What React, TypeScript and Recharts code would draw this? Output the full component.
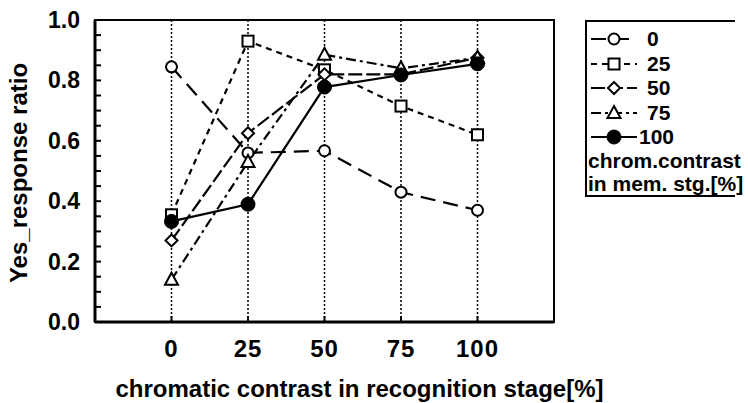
import React from "react";
import {
  CartesianGrid,
  Line,
  LineChart,
  ReferenceArea,
  XAxis,
  YAxis,
} from "recharts";

const CONTRAST = [0, 25, 50, 75, 100];
const MEM_0 = [0.845, 0.56, 0.567, 0.43, 0.37];
const MEM_25 = [0.355, 0.93, 0.835, 0.715, 0.62];
const MEM_50 = [0.27, 0.625, 0.82, 0.82, 0.875];
const MEM_75 = [0.14, 0.53, 0.885, 0.84, 0.875];
const MEM_100 = [0.333, 0.39, 0.778, 0.818, 0.855];

const X_TICKS = [0, 25, 50, 75, 100];
const Y_TICKS = [
  0, 0.05, 0.1, 0.15, 0.2, 0.25, 0.3, 0.35, 0.4, 0.45, 0.5, 0.55, 0.6, 0.65, 0.7, 0.75, 0.8, 0.85,
  0.9, 0.95, 1.0,
];
const Y_LABELED = [0, 0.2, 0.4, 0.6, 0.8, 1.0];

const dados = CONTRAST.map((c, i) => ({
  c,
  m0: MEM_0[i],
  m25: MEM_25[i],
  m50: MEM_50[i],
  m75: MEM_75[i],
  m100: MEM_100[i],
}));

const FONTE = "'Liberation Sans', Arial, Helvetica, sans-serif";

type Forma = "circulo" | "quadrado" | "losango" | "triangulo" | "cheio";

const SERIES: { chave: string; nome: string; forma: Forma; tracejado?: string }[] = [
  { chave: "m0", nome: "0", forma: "circulo", tracejado: "15 8" },
  { chave: "m25", nome: "25", forma: "quadrado", tracejado: "6 5" },
  { chave: "m50", nome: "50", forma: "losango", tracejado: "14 4" },
  { chave: "m75", nome: "75", forma: "triangulo", tracejado: "10 4 3 4" },
  { chave: "m100", nome: "100", forma: "cheio" },
];

function Marcador({ forma, cx, cy }: { forma: Forma; cx: number; cy: number }) {
  const base = { stroke: "#000", strokeWidth: 2, fill: "#fff" };
  if (forma === "circulo") return <circle cx={cx} cy={cy} r={5.5} {...base} />;
  if (forma === "quadrado") return <rect x={cx - 5.5} y={cy - 5.5} width={11} height={11} {...base} />;
  if (forma === "losango")
    return <polygon points={`${cx},${cy - 6} ${cx + 6},${cy} ${cx},${cy + 6} ${cx - 6},${cy}`} {...base} />;
  if (forma === "triangulo")
    return <polygon points={`${cx},${cy - 7} ${cx + 6.5},${cy + 5} ${cx - 6.5},${cy + 5}`} {...base} />;
  return <circle cx={cx} cy={cy} r={7} fill="#000" stroke="#000" />;
}

function TickY(props: any) {
  const { x, y, payload } = props;
  const v = payload.value as number;
  const rotulado = Y_LABELED.some((t) => Math.abs(t - v) < 1e-6);
  return (
    <g>
      <line x1={x + 15} x2={x + 21} y1={y} y2={y} stroke="#000" strokeWidth={2} />
      {rotulado && (
        <text x={x} y={y + 8} textAnchor="end" fontFamily={FONTE} fontWeight="bold" fontSize={23} fill="#000">
          {v.toFixed(1)}
        </text>
      )}
    </g>
  );
}

function TickYDireita(props: any) {
  const { x, y } = props;
  return <line x1={x - 6} x2={x} y1={y} y2={y} stroke="#000" strokeWidth={2} />;
}

function TickX(props: any) {
  const { x, y, payload } = props;
  return (
    <g>
      <line x1={x} x2={x} y1={y} y2={y - 6} stroke="#000" strokeWidth={2} />
      <text
        x={x}
        y={y + 35}
        textAnchor="middle"
        fontFamily={FONTE}
        fontWeight="bold"
        fontSize={24}
        letterSpacing={1}
        fill="#000"
      >
        {payload.value}
      </text>
    </g>
  );
}

function RotuloX(props: any) {
  const { viewBox } = props;
  return (
    <text
      x={viewBox.x + viewBox.width / 2 + 35}
      y={397}
      textAnchor="middle"
      fontFamily={FONTE}
      fontWeight="bold"
      fontSize={24}
      fill="#000"
    >
      chromatic contrast in recognition stage[%]
    </text>
  );
}

function RotuloY(props: any) {
  const { viewBox } = props;
  const cy = viewBox.y + viewBox.height / 2 + 2;
  return (
    <text
      transform={`translate(27,${cy}) rotate(-90)`}
      textAnchor="middle"
      fontFamily={FONTE}
      fontWeight="bold"
      fontSize={24}
      fill="#000"
    >
      Yes_response ratio
    </text>
  );
}

function Legenda() {
  return (
    <div
      style={{
        position: "absolute",
        left: 585,
        top: 20,
        width: 150,
        height: 177,
        borderLeft: "2px solid #000",
        borderTop: "2px solid #000",
        borderBottom: "2px solid #000",
        boxSizing: "border-box",
        fontFamily: FONTE,
        fontWeight: "bold",
        fontSize: 21,
        color: "#000",
        whiteSpace: "nowrap",
      }}
    >
      <div style={{ paddingTop: 5 }}>
        {SERIES.map((s) => (
          <div key={s.chave} style={{ display: "flex", alignItems: "center", height: 24.5 }}>
            <svg width={50} height={20} style={{ marginLeft: 2 }}>
              <line x1={2} x2={48} y1={10} y2={10} stroke="#000" strokeWidth={2.2} strokeDasharray={s.tracejado} />
              <Marcador forma={s.forma} cx={25} cy={10} />
            </svg>
            <span style={{ marginLeft: s.nome === "100" ? 0 : 8, lineHeight: "20px" }}>{s.nome}</span>
          </div>
        ))}
      </div>
      <div style={{ marginTop: -1, marginLeft: 1, lineHeight: "23px", fontSize: 21 }}>
        chrom.contrast
        <br />
        in mem. stg.[%]
      </div>
    </div>
  );
}

export default function App() {
  return (
    <div
      style={{
        position: "absolute",
        left: 0,
        top: 0,
        width: 748,
        height: 403,
        background: "#fff",
        overflow: "hidden",
      }}
    >
      <LineChart width={748} height={403} data={dados} margin={{ top: 20, right: 188, bottom: 0, left: 0 }}>
        <CartesianGrid horizontal={false} vertical stroke="#000" strokeWidth={1.5} strokeDasharray="2 2" />
        <XAxis
          dataKey="c"
          type="number"
          domain={[-25, 125]}
          ticks={X_TICKS}
          height={81}
          tickSize={0}
          tickMargin={0}
          tick={<TickX />}
          axisLine={{ stroke: "#000", strokeWidth: 3 }}
          tickLine={false}
          label={<RotuloX />}
        />
        <YAxis
          yAxisId="esq"
          type="number"
          domain={[0, 1]}
          ticks={Y_TICKS}
          interval={0}
          width={95}
          tickSize={0}
          tickMargin={15}
          tick={<TickY />}
          axisLine={{ stroke: "#000", strokeWidth: 3 }}
          tickLine={false}
          label={<RotuloY />}
        />
        <YAxis
          yAxisId="dir"
          orientation="right"
          type="number"
          domain={[0, 1]}
          ticks={Y_TICKS}
          interval={0}
          width={6}
          tickSize={0}
          tickMargin={0}
          tick={<TickYDireita />}
          axisLine={{ stroke: "#000", strokeWidth: 2 }}
          tickLine={false}
        />
        <ReferenceArea
          yAxisId="esq"
          x1={-25}
          x2={125}
          y1={0}
          y2={1}
          fill="none"
          stroke="#000"
          strokeWidth={2}
          ifOverflow="visible"
        />
        {SERIES.map((s) => (
          <Line
            key={s.chave}
            yAxisId="esq"
            type="linear"
            dataKey={s.chave}
            stroke="#000"
            strokeWidth={2.2}
            strokeDasharray={s.tracejado}
            isAnimationActive={false}
            dot={(p: any) => <Marcador key={`${s.chave}-${p.index}`} forma={s.forma} cx={p.cx} cy={p.cy} />}
            activeDot={false}
          />
        ))}
      </LineChart>
      <Legenda />
    </div>
  );
}
